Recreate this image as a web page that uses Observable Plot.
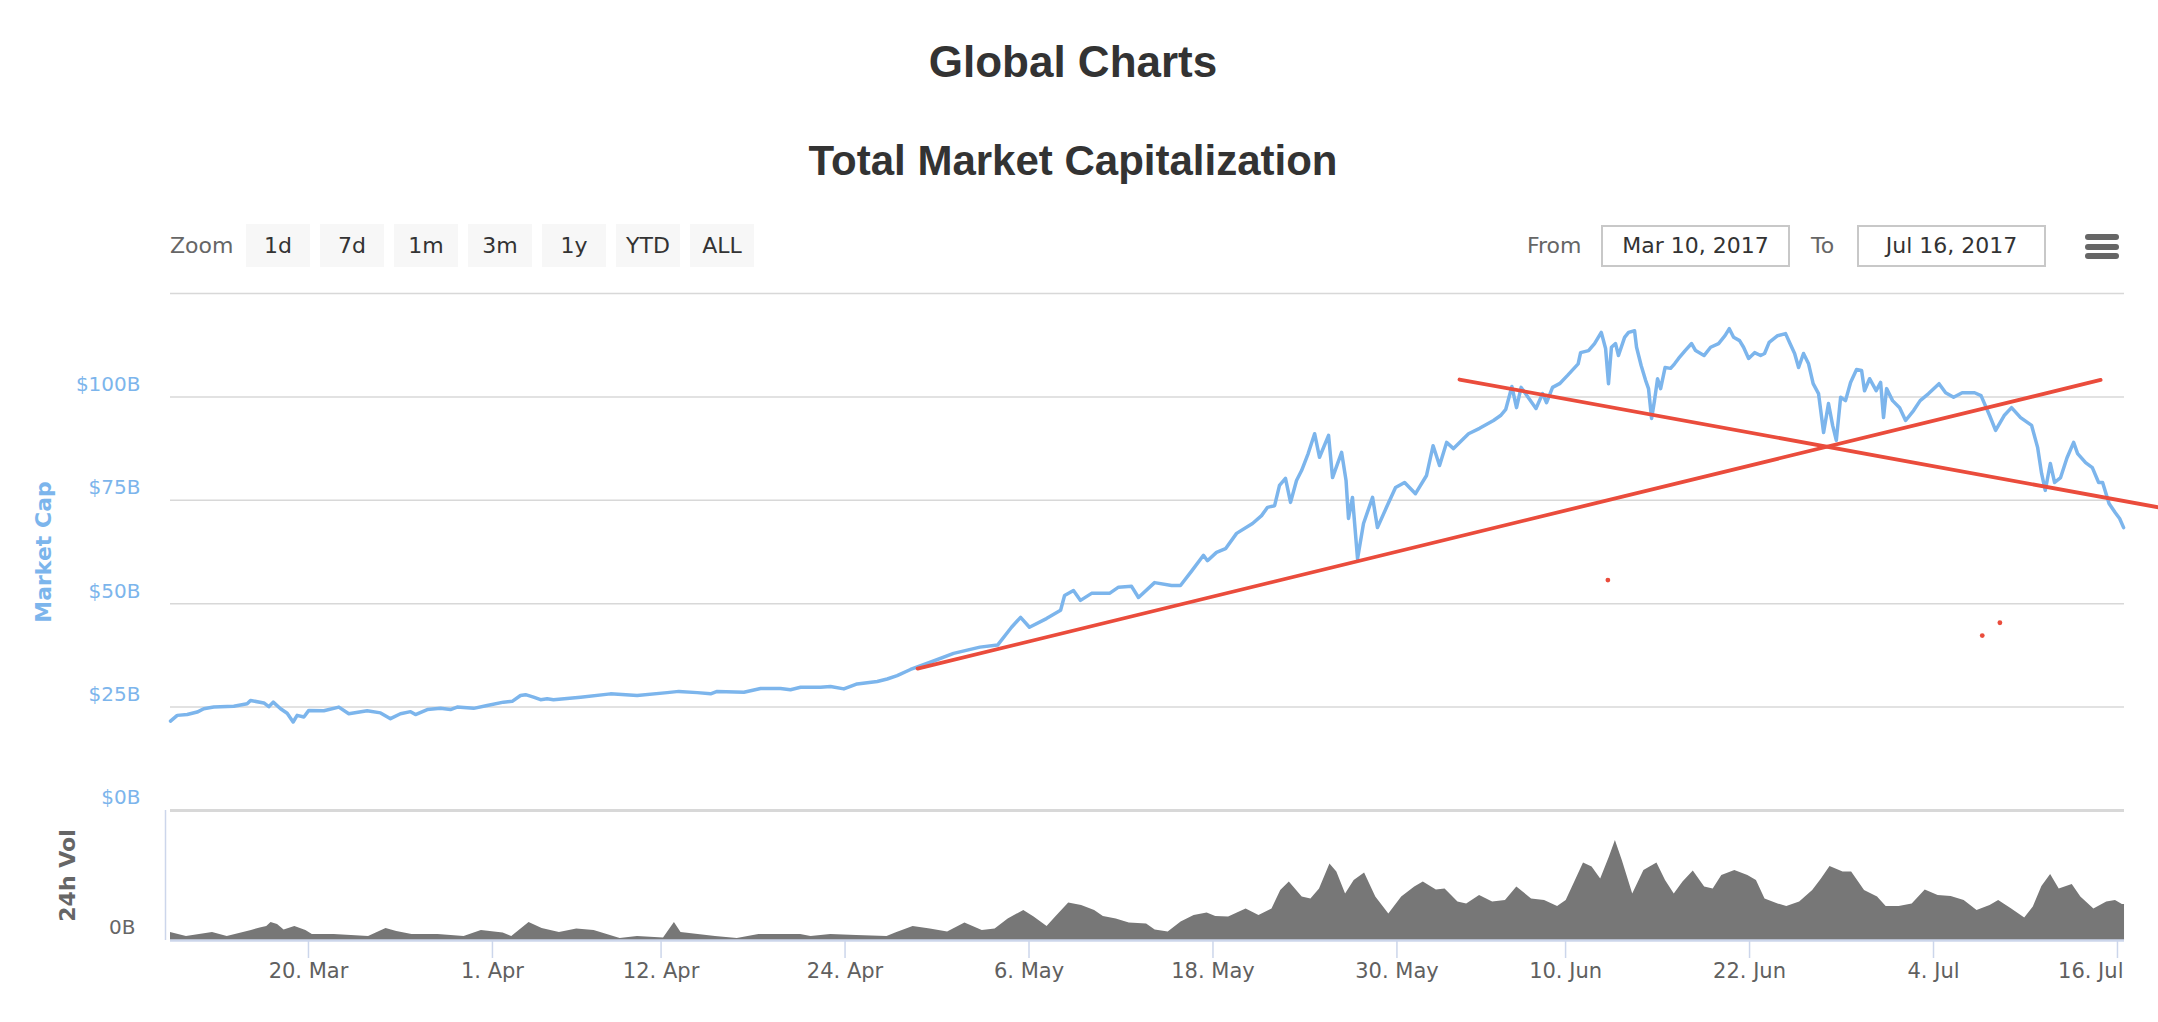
<!DOCTYPE html>
<html>
<head>
<meta charset="utf-8">
<script src="https://cdn.jsdelivr.net/npm/d3@7"></script>
<script src="https://cdn.jsdelivr.net/npm/@observablehq/plot@0.6"></script>
<style>
  body { margin: 0; background: #fff; }
  #page { position: relative; width: 2158px; height: 1022px; overflow: hidden; font-family: "DejaVu Sans", sans-serif; }
  .abs { position: absolute; white-space: nowrap; }
  .title { font-family: "Liberation Sans", Arial, sans-serif; font-weight: bold; color: #333; left: 0; width: 2146px; text-align: center; }
  .btn { position: absolute; top: 224px; width: 64px; height: 43px; background: #f7f7f7; color: #333; font-size: 22px; line-height: 43px; text-align: center; }
  .lbl { position: absolute; top: 224px; height: 43px; line-height: 43px; color: #666; font-size: 22px; }
  .box { position: absolute; top: 225px; height: 42px; box-sizing: border-box; border: 2px solid #c8c8c8; color: #333; font-size: 22px; line-height: 38px; text-align: center; }
  .bar { position: absolute; left: 2085px; width: 34px; height: 6px; border-radius: 3px; background: #666; }
  #main, #vol { position: absolute; left: 0; }
  #main { top: 280px; }
  #vol { top: 810px; }
</style>
</head>
<body>
<div id="page">
  <div class="abs title" style="top:40px;font-size:44px;line-height:44px;">Global Charts</div>
  <div class="abs title" style="top:139.5px;font-size:42px;line-height:42px;">Total Market Capitalization</div>
  <div class="lbl" style="left:170px;">Zoom</div>
  <div id="buttons"></div>
  <div class="lbl" style="left:1527px;">From</div>
  <div class="box" style="left:1601px;width:189px;" id="fromBox"></div>
  <div class="lbl" style="left:1811px;">To</div>
  <div class="box" style="left:1857px;width:189px;" id="toBox"></div>
  <div class="bar" style="top:234px;"></div>
  <div class="bar" style="top:243.5px;"></div>
  <div class="bar" style="top:253px;"></div>
  <div id="main"></div>
  <div id="vol"></div>
</div>
<script>
// ---------- data (days since 2017-03-11 00:00 UTC) ----------
const zoomButtons = ["1d", "7d", "1m", "3m", "1y", "YTD", "ALL"];
const fromLabel = "Mar 10, 2017";
const toLabel = "Jul 16, 2017";

const capDays = [0,0.44,1.09,1.74,2.17,2.82,4.13,5.0,5.22,6.09,6.41,6.7,7.18,7.61,8.0,8.26,8.7,9.02,10.0,10.98,11.63,12.83,13.7,14.35,15.0,15.66,15.98,16.75,17.61,18.26,18.7,19.77,20.66,21.72,22.29,22.83,23.16,23.68,24.14,24.57,24.98,26.75,28.7,30.44,32.4,33.16,34.36,35.23,35.66,37.4,38.49,39.79,40.44,41.1,42.4,43.05,43.92,44.79,46.1,46.75,47.4,48.27,49.6,51.08,52.8,53.95,54.86,55.45,56.03,57.14,58.06,58.32,58.9,59.36,60.08,61.25,61.84,62.69,63.14,64.19,65.3,65.88,66.63,67.38,67.64,68.23,68.82,69.54,70.58,71.17,71.56,72.02,72.34,72.73,73.06,73.45,73.78,74.21,74.63,74.95,75.54,75.8,76.39,76.68,76.84,77.1,77.43,77.82,78.41,78.73,79.32,79.91,80.5,81.21,81.93,82.36,82.78,83.24,83.69,84.67,85.39,86.3,86.76,87.1,87.5,87.8,88.1,89.07,89.5,89.76,90.15,90.61,91.13,91.82,91.98,92.5,92.89,93.33,93.61,93.8,93.99,94.26,94.45,94.85,95.11,95.5,95.63,95.93,96.22,96.41,96.61,96.8,97.0,97.2,97.49,97.85,98.11,98.37,98.8,99.22,99.48,100.03,100.46,100.98,101.4,101.68,101.96,102.35,102.61,102.94,103.33,103.72,103.98,104.28,104.83,105.35,105.64,105.94,106.2,106.52,106.85,107.15,107.5,107.83,108.15,108.42,108.66,108.94,109.26,109.59,109.98,110.31,110.5,110.83,111.26,111.55,111.74,111.94,112.33,112.79,113.18,113.7,114.13,114.68,115.36,115.79,116.31,116.87,117.68,118.1,118.66,119.05,119.61,120.09,120.68,121.4,121.79,122.05,122.29,122.62,122.9,123.29,123.71,124.14,124.4,124.92,125.36,125.77,126.03,126.45,126.86,127.14,127.4];
const capValues = [21.6,23.0,23.2,23.8,24.6,25.0,25.2,25.8,26.6,26.0,25.1,26.2,24.6,23.5,21.4,23.0,22.6,24.2,24.1,25.0,23.4,24.1,23.6,22.2,23.4,23.9,23.2,24.4,24.7,24.4,25.0,24.7,25.4,26.2,26.4,27.8,28.0,27.4,26.8,27.0,26.8,27.4,28.2,27.8,28.5,28.8,28.5,28.2,28.8,28.6,29.5,29.5,29.2,29.8,29.8,30.0,29.4,30.6,31.2,31.8,32.6,34.1,35.9,38.0,39.5,40.0,44.3,46.7,44.3,46.4,48.4,52.0,53.2,50.8,52.5,52.5,54.0,54.2,51.5,55.1,54.4,54.4,58.0,61.7,60.4,62.4,63.3,67.0,69.4,71.3,73.3,73.7,78.6,80.3,74.5,79.8,82.2,86.3,91.1,85.4,90.7,80.5,86.6,79.8,70.6,75.7,60.9,69.4,75.7,68.4,73.3,78.1,79.3,76.6,81.0,88.2,83.4,89.0,87.5,91.1,92.4,94.3,95.5,97.0,102.5,97.4,102.3,97.2,100.8,98.6,102.3,103.2,105.2,108.0,110.7,111.2,112.9,115.6,111.7,103.2,112.0,112.9,110.0,114.4,115.6,116.0,112.0,107.6,104.0,102.0,94.8,99.1,104.4,102.0,107.1,106.9,108.0,109.3,111.2,112.9,111.2,110.0,112.0,112.9,114.8,116.5,114.4,113.6,112.0,109.3,110.7,110.0,110.5,113.2,114.8,115.3,112.9,110.5,107.1,110.5,108.0,103.2,100.8,91.4,98.4,93.1,89.5,99.9,99.1,103.5,106.6,106.4,101.5,104.4,101.5,103.5,95.0,102.0,99.1,97.4,94.3,96.7,99.1,100.8,103.2,101.0,99.9,101.0,101.0,100.3,95.5,91.9,95.5,97.4,95.0,93.1,87.8,81.5,77.4,83.9,79.3,80.5,85.3,89.0,86.3,84.1,82.9,79.3,79.3,74.2,72.0,70.6,68.4];

const volDays = [0,1.04,2.74,3.7,5.28,5.85,6.28,6.56,6.98,7.41,8.11,8.83,9.25,10.67,12.92,14.06,14.76,15.75,17.45,19.15,20.28,21.7,22.26,23.39,24.24,25.37,26.5,27.63,28.48,29.33,30.46,32.16,32.87,33.3,34.42,35.55,36.97,38.38,40.08,41.1,41.78,43.07,44.76,46.74,47.3,48.44,49.56,50.69,51.82,52.95,53.79,54.64,55.66,56.33,57.18,57.74,58.59,59.43,60.28,60.85,61.69,62.54,63.67,64.23,65.08,65.92,66.77,67.62,68.18,69.02,70.16,71.0,71.85,72.42,72.98,73.82,74.39,74.95,75.63,76.08,76.65,77.21,77.89,78.62,79.47,80.31,81.16,81.72,82.57,83.14,83.98,84.55,85.39,86.24,87.08,87.82,88.78,89.63,90.48,91.04,91.6,92.17,92.73,93.29,93.86,94.25,94.7,95.38,96.11,96.96,97.52,98.09,98.66,99.33,100.07,100.63,101.19,102.04,102.89,103.45,104.01,104.86,105.43,106.27,107.12,107.69,108.25,109.1,109.66,110.5,111.35,111.91,112.76,113.61,114.46,115.3,116.15,117.0,117.84,118.69,119.25,120.1,120.95,121.51,122.07,122.64,123.2,124.05,124.61,125.46,126.3,126.87,127.32,127.46];
const volValues = [0.40,0.20,0.40,0.20,0.50,0.63,0.70,0.90,0.80,0.53,0.70,0.50,0.30,0.30,0.20,0.60,0.45,0.30,0.30,0.20,0.50,0.37,0.20,0.90,0.60,0.40,0.58,0.50,0.30,0.10,0.20,0.13,0.90,0.40,0.30,0.20,0.10,0.30,0.30,0.30,0.20,0.30,0.25,0.20,0.37,0.70,0.58,0.42,0.87,0.50,0.58,1.08,1.50,1.17,0.70,1.17,1.88,1.75,1.50,1.20,1.08,0.87,0.83,0.53,0.42,0.92,1.25,1.38,1.20,1.17,1.58,1.25,1.58,2.50,2.92,2.17,2.08,2.58,3.83,3.42,2.33,3.00,3.37,2.17,1.33,2.17,2.67,2.92,2.53,2.58,1.92,1.83,2.25,1.92,2.00,2.67,2.08,2.00,1.70,2.00,2.92,3.87,3.67,3.08,4.17,5.00,4.00,2.33,3.50,3.87,3.00,2.33,2.92,3.47,2.67,2.58,3.25,3.50,3.25,3.00,2.08,1.83,1.70,1.92,2.50,3.08,3.70,3.42,3.42,2.50,2.17,1.70,1.70,1.83,2.53,2.25,2.20,2.00,1.50,1.75,2.00,1.58,1.13,1.67,2.70,3.30,2.58,2.80,2.17,1.58,1.92,2.00,1.80,1.80];

// hand-drawn red trend lines and dots (in days / $B)
const trendUpDays = [48.73, 125.9];
const trendUpValues = [34.3, 104.1];
const trendDownDays = [84.08, 129.68];
const trendDownValues = [104.2, 73.3];
const dotDays = [93.76, 118.18, 119.33];
const dotValues = [55.7, 42.3, 45.4];

const capTicks = [0, 25, 50, 75, 100];
const capGrid = [25, 50, 75, 100, 125];
const xTickDates = ["2017-03-20","2017-04-01","2017-04-12","2017-04-24","2017-05-06","2017-05-18","2017-05-30","2017-06-10","2017-06-22","2017-07-04","2017-07-16"];
const xTickLabels = ["20. Mar","1. Apr","12. Apr","24. Apr","6. May","18. May","30. May","10. Jun","22. Jun","4. Jul","16. Jul"];

// ---------- header ----------
const btnWrap = document.getElementById("buttons");
zoomButtons.forEach((b, i) => {
  const d = document.createElement("div");
  d.className = "btn";
  d.style.left = (246 + i * 74) + "px";
  d.textContent = b;
  btnWrap.appendChild(d);
});
document.getElementById("fromBox").textContent = fromLabel;
document.getElementById("toBox").textContent = toLabel;

// ---------- build tables ----------
const DAY = 864e5;
const t0 = Date.UTC(2017, 2, 11);
const toDate = n => new Date(t0 + n * DAY);
const cap = capDays.map((d, i) => ({date: toDate(d), value: capValues[i]}));
const volume = volDays.map((d, i) => ({date: toDate(d), value: volValues[i]}));
const trend = [
  ...trendUpDays.map((d, i) => ({id: "up", date: toDate(d), value: trendUpValues[i]})),
  ...trendDownDays.map((d, i) => ({id: "down", date: toDate(d), value: trendDownValues[i]}))
];
const dots = dotDays.map((d, i) => ({date: toDate(d), value: dotValues[i]}));
const xDomain = [toDate(0), new Date(Date.UTC(2017, 6, 16, 11))];
const ticks = xTickDates.map(s => new Date(s + "T00:00:00Z"));
const lastTick = ticks[ticks.length - 1];
const labelOf = d => xTickLabels[ticks.findIndex(t => +t === +d)];

const svgStyle = "overflow:visible;background:transparent;font-family:'DejaVu Sans',sans-serif;display:block;max-width:none;";
const RED = "#ea4c3c";

const main = Plot.plot({
  width: 2158, height: 530,
  marginLeft: 170, marginRight: 34, marginTop: 13, marginBottom: 0,
  style: svgStyle,
  x: {type: "utc", domain: xDomain, axis: null},
  y: {domain: [0, 125], axis: null},
  marks: [
    Plot.ruleY(capGrid, {stroke: "#d8d8d8", strokeWidth: 1.5}),
    Plot.ruleY([0], {stroke: "#d8d8d8", strokeWidth: 3}),
    Plot.axisY({ticks: capTicks, tickSize: 0, tickPadding: 30, dy: -12.5, fill: "#7cb5ec", fontSize: 20, tickFormat: d => `$${d}B`, label: null}),
    Plot.text(["Market Cap"], {frameAnchor: "left", textAnchor: "middle", dx: -127, rotate: -90, fill: "#7cb5ec", fontSize: 22, fontWeight: "bold"}),
    Plot.line(cap, {x: "date", y: "value", stroke: "#7cb5ec", strokeWidth: 3.5, strokeLinejoin: "round"}),
    Plot.line(trend, {x: "date", y: "value", z: "id", stroke: RED, strokeWidth: 3.8}),
    Plot.dot(dots, {x: "date", y: "value", r: 2.4, fill: RED})
  ]
});
document.getElementById("main").appendChild(main);

const vol = Plot.plot({
  width: 2158, height: 212,
  marginLeft: 170, marginRight: 34, marginTop: 0, marginBottom: 82,
  style: svgStyle,
  x: {type: "utc", domain: xDomain, axis: null},
  y: {domain: [0, 6.5], axis: null},
  marks: [
    Plot.areaY(volume, {x: "date", y: "value", fill: "#777777"}),
    Plot.ruleY([0], {stroke: "#ccd6eb", strokeWidth: 2.5}),
    Plot.ruleX([xDomain[0]], {dx: -5, stroke: "#ccd6eb", strokeWidth: 1.5}),
    Plot.axisY({ticks: [0], tickSize: 0, tickPadding: 35, dy: -12.5, fill: "#666", fontSize: 20, tickFormat: () => "0B", label: null}),
    Plot.text(["24h Vol"], {frameAnchor: "left", textAnchor: "middle", dx: -103, rotate: -90, fill: "#666", fontSize: 22, fontWeight: "bold"}),
    Plot.axisX({ticks: ticks, tickSize: 18, tickPadding: 5, stroke: "#ccd6eb", strokeWidth: 1.5, fill: "#606060", fontSize: 21,
      tickFormat: d => (+d === +lastTick ? "" : labelOf(d)), label: null}),
    Plot.axisX({ticks: [lastTick], tickSize: 0, tickPadding: 23, textAnchor: "end", dx: 6, fill: "#606060", fontSize: 21,
      tickFormat: d => labelOf(d), label: null})
  ]
});
document.getElementById("vol").appendChild(vol);
</script>
</body>
</html>
